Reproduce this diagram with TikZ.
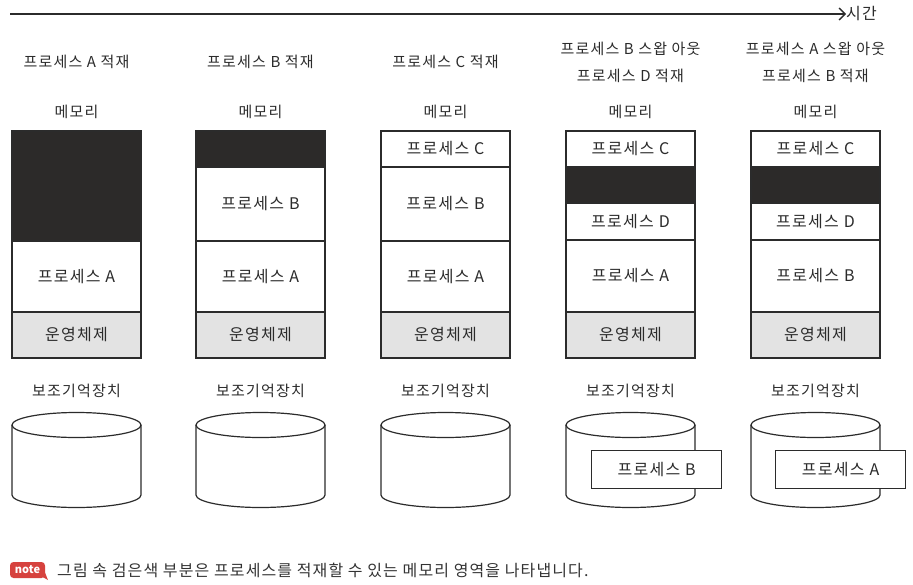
\documentclass[tikz,border=0pt]{standalone}
\usepackage{fontspec}
\setmainfont{Noto Sans CJK KR}
\newfontfamily\hand[LetterSpace=8]{Noto Sans CJK KR}
\newfontfamily\notefont[LetterSpace=7]{Noto Sans CJK KR}
\usetikzlibrary{arrows.meta}
\definecolor{ink}{HTML}{2B2B2B}
\definecolor{blk}{HTML}{2C2A29}
\definecolor{osgray}{HTML}{E3E3E3}
\definecolor{notered}{HTML}{D6423E}
\definecolor{notetext}{HTML}{333333}
\newcommand\memseg[6]{%
  \node[seg,#5,minimum height={#4-#3}] (#1) at (#2,#3) {#6};}
\newcommand\disk[2]{%
  \coordinate (#1) at (#2+64.5,425);
  \draw[cylline,fill=white] (#2,425) -- (#2,495)
     arc[start angle=180,end angle=360,x radius=64.5pt,y radius=12.5pt] -- (#2+129,425);
  \draw[cylline,fill=white] (#1) ellipse [x radius=64.5pt,y radius=12.5pt];}
\begin{document}
\begin{tikzpicture}[x=1pt,y=-1pt,
  lbl/.style={font=\hand\fontsize{15}{17}\selectfont,text=ink,inner sep=0pt},
  seg/.style={draw=ink,line width=1.2pt,minimum width=129pt,inner sep=0pt,outer sep=0pt,
    anchor=north west,font=\hand\fontsize{16}{18}\selectfont,text=ink},
  free/.style={fill=blk},
  os/.style={fill=osgray},
  proc/.style={fill=white},
  cylline/.style={draw=ink,line width=1.2pt},
  swapbox/.style={draw=ink,line width=1.2pt,fill=white,minimum width=130pt,minimum height=38pt,
    inner sep=0pt,anchor=north west,font=\hand\fontsize{16}{18}\selectfont,text=ink}
]
\useasboundingbox (0,0) rectangle (913,584);

% time axis
\coordinate (t0) at (10,14);
\node[lbl,anchor=west,font=\hand\fontsize{16}{18}\selectfont] (time) at (846,14) {시간};
\draw[ink,line width=1.3pt,-{Straight Barb[length=6pt,width=12pt]}] (t0) -- (time.west);

% headers
\node[lbl] (h1) at (76.5,62) {프로세스 A 적재};
\node[lbl] (h2) at (260.5,62) {프로세스 B 적재};
\node[lbl] (h3) at (445.5,62) {프로세스 C 적재};
\node[lbl,align=center,font=\hand\fontsize{15}{27}\selectfont] (h4) at (630.5,62.5) {프로세스 B 스왑 아웃\\프로세스 D 적재};
\node[lbl,align=center,font=\hand\fontsize{15}{27}\selectfont] (h5) at (815.5,62.5) {프로세스 A 스왑 아웃\\프로세스 B 적재};

% memory labels
\foreach \i/\x in {1/76.5,2/260.5,3/445.5,4/630.5,5/815.5}{
  \node[lbl] (mem\i) at (\x,112) {메모리};
  \node[lbl] (sto\i) at (\x,391) {보조기억장치};
}

% column 1
\memseg{a1}{12}{131}{241}{free}{}
\memseg{b1}{12}{241}{312}{proc}{프로세스 A}
\memseg{c1}{12}{312}{358}{os}{운영체제}
% column 2
\memseg{a2}{196}{131}{167}{free}{}
\memseg{b2}{196}{167}{241}{proc}{프로세스 B}
\memseg{c2}{196}{241}{312}{proc}{프로세스 A}
\memseg{d2}{196}{312}{358}{os}{운영체제}
% column 3
\memseg{a3}{381}{131}{167}{proc}{프로세스 C}
\memseg{b3}{381}{167}{241}{proc}{프로세스 B}
\memseg{c3}{381}{241}{312}{proc}{프로세스 A}
\memseg{d3}{381}{312}{358}{os}{운영체제}
% column 4
\memseg{a4}{566}{131}{167}{proc}{프로세스 C}
\memseg{b4}{566}{167}{203}{free}{}
\memseg{c4}{566}{203}{240}{proc}{프로세스 D}
\memseg{d4}{566}{240}{312}{proc}{프로세스 A}
\memseg{e4}{566}{312}{358}{os}{운영체제}
% column 5
\memseg{a5}{751}{131}{167}{proc}{프로세스 C}
\memseg{b5}{751}{167}{203}{free}{}
\memseg{c5}{751}{203}{240}{proc}{프로세스 D}
\memseg{d5}{751}{240}{312}{proc}{프로세스 B}
\memseg{e5}{751}{312}{358}{os}{운영체제}

% storage
\disk{disk1}{12}
\disk{disk2}{196}
\disk{disk3}{381}
\disk{disk4}{566}
\disk{disk5}{751}
\node[swapbox] (sw4) at (591,450) {프로세스 B};
\node[swapbox] (sw5) at (775,450) {프로세스 A};

% note
\node[fill=notered,text=white,rounded corners=3.5pt,minimum width=35pt,minimum height=16pt,inner sep=0pt,
  font=\fontsize{11}{12}\selectfont\bfseries] (badge) at (27.5,570) {note};
\fill[notered] (39,575) -- (48,580) -- (44,570) -- cycle;
\node[anchor=west,inner sep=0pt,text=notetext,font=\notefont\fontsize{16}{18}\selectfont] (note) at (57,570)
  {그림 속 검은색 부분은 프로세스를 적재할 수 있는 메모리 영역을 나타냅니다.};
\end{tikzpicture}
\end{document}
